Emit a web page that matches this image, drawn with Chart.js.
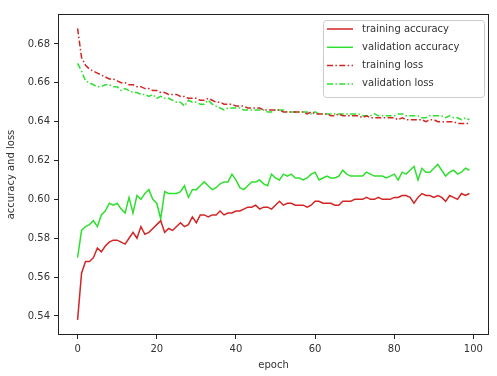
<!DOCTYPE html>
<html>
<head>
<meta charset="utf-8">
<script src="https://cdn.jsdelivr.net/npm/chart.js@4/dist/chart.umd.min.js"></script>
<style>
html,body{margin:0;padding:0;background:#fff;}
canvas{display:block;}
</style>
</head>
<body>
<canvas id="c" width="497" height="376"></canvas>
<script>
const epochs = Array.from({length: 100}, (_, i) => i);

const trainingAccuracy = [
0.538,0.562,0.568,0.568,0.570,0.575,0.573,0.576,0.578,0.579,
0.579,0.578,0.577,0.580,0.583,0.580,0.586,0.582,0.583,0.585,
0.587,0.589,0.583,0.585,0.584,0.586,0.588,0.586,0.587,0.591,
0.588,0.592,0.592,0.591,0.592,0.592,0.594,0.592,0.593,0.593,
0.594,0.594,0.595,0.596,0.596,0.597,0.595,0.596,0.596,0.595,
0.597,0.599,0.597,0.598,0.598,0.597,0.597,0.597,0.596,0.597,
0.599,0.599,0.598,0.598,0.598,0.597,0.597,0.599,0.599,0.599,
0.600,0.600,0.600,0.601,0.600,0.600,0.601,0.600,0.600,0.600,
0.601,0.601,0.602,0.602,0.601,0.598,0.601,0.603,0.602,0.602,
0.601,0.602,0.601,0.599,0.602,0.601,0.600,0.603,0.602,0.603];

const validationAccuracy = [
0.570,0.584,0.586,0.587,0.589,0.586,0.592,0.594,0.598,0.597,
0.598,0.595,0.593,0.601,0.593,0.602,0.600,0.603,0.605,0.600,
0.598,0.590,0.604,0.603,0.603,0.603,0.604,0.607,0.601,0.605,
0.605,0.607,0.609,0.607,0.605,0.606,0.608,0.609,0.609,0.613,
0.610,0.606,0.605,0.607,0.609,0.609,0.610,0.608,0.607,0.613,
0.611,0.610,0.613,0.612,0.613,0.611,0.611,0.610,0.611,0.613,
0.614,0.610,0.611,0.612,0.611,0.611,0.612,0.615,0.613,0.612,
0.612,0.612,0.612,0.614,0.613,0.612,0.612,0.612,0.611,0.612,
0.613,0.610,0.614,0.613,0.615,0.617,0.610,0.616,0.614,0.614,
0.616,0.618,0.615,0.612,0.614,0.615,0.613,0.614,0.616,0.615];

const trainingLoss = [
0.688,0.673,0.669,0.667,0.666,0.665,0.664,0.663,0.662,0.662,
0.661,0.660,0.660,0.659,0.659,0.658,0.658,0.657,0.657,0.656,
0.656,0.655,0.655,0.654,0.654,0.654,0.653,0.653,0.652,0.652,
0.652,0.651,0.651,0.652,0.651,0.650,0.650,0.649,0.649,0.649,
0.648,0.648,0.648,0.647,0.647,0.647,0.647,0.646,0.646,0.646,
0.646,0.646,0.645,0.645,0.645,0.645,0.645,0.645,0.644,0.645,
0.644,0.644,0.644,0.644,0.643,0.643,0.644,0.643,0.643,0.643,
0.643,0.643,0.642,0.643,0.642,0.642,0.642,0.642,0.642,0.642,
0.642,0.641,0.642,0.641,0.641,0.641,0.641,0.641,0.640,0.641,
0.641,0.640,0.640,0.640,0.640,0.640,0.639,0.639,0.639,0.639];

const validationLoss = [
0.670,0.666,0.661,0.660,0.659,0.658,0.658,0.659,0.659,0.658,
0.658,0.656,0.657,0.656,0.655,0.655,0.654,0.654,0.653,0.654,
0.652,0.653,0.652,0.652,0.651,0.650,0.650,0.648,0.651,0.650,
0.650,0.649,0.649,0.651,0.649,0.648,0.647,0.646,0.647,0.647,
0.647,0.647,0.646,0.646,0.646,0.646,0.646,0.646,0.645,0.645,
0.646,0.646,0.646,0.645,0.645,0.645,0.645,0.645,0.645,0.644,
0.645,0.644,0.644,0.644,0.644,0.644,0.644,0.644,0.644,0.644,
0.644,0.644,0.643,0.643,0.643,0.644,0.643,0.643,0.643,0.643,
0.643,0.644,0.644,0.643,0.643,0.643,0.643,0.642,0.642,0.643,
0.643,0.643,0.643,0.642,0.643,0.642,0.642,0.641,0.642,0.641];

const xTicks = [0, 20, 40, 60, 80, 100];
const yTicks = [0.54, 0.56, 0.58, 0.60, 0.62, 0.64, 0.66, 0.68];
const yTickLabels = ['0.54', '0.56', '0.58', '0.60', '0.62', '0.64', '0.66', '0.68'];
const seriesLabels = ['training accuracy', 'validation accuracy', 'training loss', 'validation loss'];

const RED = '#d42424';
const GREEN = '#2ee02e';
const DASHDOT = [6, 2.4, 1.5, 2.4];

const pts = arr => epochs.map((e, i) => ({x: e, y: arr[i]}));

const FONT = {family: 'DejaVu Sans', size: 10};

const frame = {
  id: 'frame',
  afterDraw(chart) {
    const {ctx, chartArea: a} = chart;
    ctx.save();
    ctx.strokeStyle = '#222';
    ctx.lineWidth = 1;
    ctx.strokeRect(Math.round(a.left) + 0.5, Math.round(a.top) + 0.5,
                   Math.round(a.right - a.left) - 1, Math.round(a.bottom - a.top) - 1);
    ctx.restore();
  }
};

const legendBox = {
  id: 'legendBox',
  afterDraw(chart) {
    const {ctx, chartArea: a} = chart;
    const x0 = a.right - 166, y0 = a.top + 6, w = 161, h = 77;
    ctx.save();
    ctx.fillStyle = 'rgba(255,255,255,0.85)';
    ctx.strokeStyle = '#cccccc';
    ctx.lineWidth = 1;
    ctx.beginPath();
    ctx.roundRect(x0 + 0.5, y0 + 0.5, w, h, 3);
    ctx.fill();
    ctx.stroke();
    ctx.font = '10px "DejaVu Sans"';
    ctx.textBaseline = 'middle';
    chart.data.datasets.forEach((ds, i) => {
      const y = y0 + 9 + i * 18.3;
      ctx.strokeStyle = ds.borderColor;
      ctx.lineWidth = ds.borderWidth;
      ctx.setLineDash(ds.borderDash || []);
      ctx.beginPath();
      ctx.moveTo(x0 + 4, y);
      ctx.lineTo(x0 + 30, y);
      ctx.stroke();
      ctx.setLineDash([]);
      ctx.fillStyle = '#333';
      ctx.fillText(ds.label, x0 + 39, y);
    });
    ctx.restore();
  }
};

new Chart(document.getElementById('c'), {
  type: 'line',
  data: {
    datasets: [
      {label: seriesLabels[0], data: pts(trainingAccuracy), borderColor: RED, borderWidth: 1.5},
      {label: seriesLabels[1], data: pts(validationAccuracy), borderColor: GREEN, borderWidth: 1.5},
      {label: seriesLabels[2], data: pts(trainingLoss), borderColor: RED, borderWidth: 1.5, borderDash: DASHDOT},
      {label: seriesLabels[3], data: pts(validationLoss), borderColor: GREEN, borderWidth: 1.5, borderDash: DASHDOT}
    ]
  },
  options: {
    responsive: false,
    animation: false,
    events: [],
    elements: {point: {radius: 0}, line: {tension: 0, fill: false}},
    layout: {padding: {top: 14, right: 8, left: 0, bottom: 0}},
    plugins: {legend: {display: false}, tooltip: {enabled: false}},
    scales: {
      x: {
        type: 'linear',
        min: -4.95, max: 103.95,
        grid: {display: true, drawOnChartArea: false, drawTicks: true, tickLength: 4, color: '#222'},
        border: {display: false},
        afterBuildTicks: s => { s.ticks = xTicks.map(v => ({value: v})); },
        afterFit: s => { s.height = 41; },
        ticks: {font: FONT, color: '#333', padding: 4, maxRotation: 0, callback: v => String(v)},
        title: {display: true, text: 'epoch', font: FONT, color: '#333', padding: {top: 0, bottom: 5}}
      },
      y: {
        type: 'linear',
        min: 0.5302, max: 0.6954,
        grid: {display: true, drawOnChartArea: false, drawTicks: true, tickLength: 4, color: '#222'},
        border: {display: false},
        afterBuildTicks: s => { s.ticks = yTicks.map(v => ({value: v})); },
        afterFit: s => { s.width = 58; },
        ticks: {font: FONT, color: '#333', padding: 4,
                callback: (v) => { const i = yTicks.findIndex(t => Math.abs(t - v) < 1e-6); return i >= 0 ? yTickLabels[i] : ''; }},
        title: {display: true, text: 'accuracy and loss', font: FONT, color: '#333', padding: {top: 5, bottom: 0}}
      }
    }
  },
  plugins: [frame, legendBox]
});
</script>
</body>
</html>
